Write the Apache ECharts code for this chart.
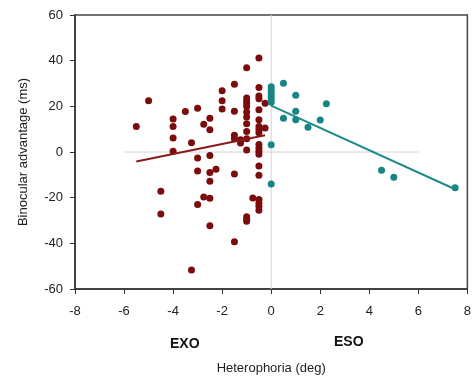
<!DOCTYPE html>
<html>
<head>
<meta charset="utf-8">
<script src="https://cdn.jsdelivr.net/npm/echarts@6/dist/echarts.min.js"></script>
<style>html,body{margin:0;padding:0;background:#fff}#c{width:474px;height:380px}</style>
</head>
<body>
<div id="c"></div>
<script>
var xTicks = {min: -8, max: 8, interval: 2};
var yTicks = {min: -60, max: 60, interval: 20};

var exoPoints = [
  [-5.5,11.2],[-5.0,22.5],[-4.5,-17.2],[-4.5,-27.1],
  [-4,14.5],[-4,11.2],[-4,6.1],[-4,0.3],
  [-3.5,17.7],[-3,19.2],[-3.25,4.1],[-3.25,-51.7],
  [-3,-2.6],[-3,-8.3],[-3,-23],
  [-2.75,12.2],[-2.75,-19.7],
  [-2.5,14.8],[-2.5,9.7],[-2.5,-1.5],[-2.5,-9],[-2.5,-12.8],[-2.5,-20.3],[-2.5,-32.3],
  [-2.25,-7.6],
  [-2,26.8],[-2,22.4],[-2,18.8],
  [-1.5,29.7],[-1.5,17.9],[-1.5,7.3],[-1.5,5.8],[-1.5,-9.6],[-1.5,-39.3],
  [-1.25,5.4],[-1.25,3.9],
  [-1,36.9],[-1,23.6],[-1,22.3],[-1,21.2],[-1,19.9],[-1,17.5],[-1,15.3],[-1,12.4],[-1,9.0],[-1,5.8],[-1,0.9],[-1,-28.4],[-1,-29.4],[-1,-30.3],
  [-0.75,-20.1],
  [-0.5,41.2],[-0.5,28.2],[-0.5,24.5],[-0.5,23.3],[-0.5,18.5],[-0.5,14.1],[-0.5,11.2],[-0.5,9.7],[-0.5,8.4],[-0.5,3.3],[-0.5,1.7],[-0.5,0.3],[-0.5,-1.0],[-0.5,-6.1],[-0.5,-10.2],[-0.5,-20.8],[-0.5,-22.3],[-0.5,-23.8],[-0.5,-25.5],
  [-0.25,21.4],[-0.25,10.5]
];
var esoPoints = [
  [0,28.6],[0,27.2],[0,25.9],[0,24.5],[0,23.3],[0,21.8],[0,3.2],[0,-14],
  [0.5,30.1],[0.5,14.8],[1,24.9],[1,17.9],[1,14.1],[1.5,10.8],[2,14],[2.25,21.1],
  [4.5,-8],[5,-11.1],[7.5,-15.7]
];
var exoFit = [[-5.5,-4.2],[-0.25,7.3]];
var esoFit = [[0,20.3],[7.5,-16.3]];
var zeroLineH = [[-6,0],[6,0]];
var zeroLineV = [[0,-60],[0,60]];

var exoColor = '#7a0c0c';
var esoColor = '#168585';
var font = 'Liberation Sans, Arial, sans-serif';

var chart = echarts.init(document.getElementById('c'), null, {renderer: 'canvas'});
chart.setOption({
  animation: false,
  backgroundColor: '#fff',
  grid: {left: 75, right: 6, top: 15, bottom: 89, show: true, borderColor: '#444', borderWidth: 1.5, backgroundColor: 'transparent'},
  xAxis: {
    type: 'value', min: xTicks.min, max: xTicks.max, interval: xTicks.interval,
    name: 'Heterophoria (deg)', nameLocation: 'middle', nameGap: 73,
    nameTextStyle: {fontFamily: font, fontSize: 13, color: '#222'},
    axisLine: {onZero: false, lineStyle: {color: '#333', width: 1.5}},
    axisTick: {show: true, inside: false, length: 5, lineStyle: {color: '#333'}},
    axisLabel: {fontFamily: font, fontSize: 13, color: '#222', margin: 16},
    splitLine: {show: false}
  },
  yAxis: {
    type: 'value', min: yTicks.min, max: yTicks.max, interval: yTicks.interval,
    name: 'Binocular advantage (ms)', nameLocation: 'middle', nameGap: 45,
    nameTextStyle: {fontFamily: font, fontSize: 13, color: '#222'},
    axisLine: {onZero: false, lineStyle: {color: '#333', width: 1.5}},
    axisTick: {show: true, inside: false, length: 5, lineStyle: {color: '#333'}},
    axisLabel: {fontFamily: font, fontSize: 13, color: '#222', margin: 12},
    splitLine: {show: false}
  },
  graphic: [
    {type: 'text', left: 170, top: 337, style: {text: 'EXO', font: 'bold 14px Liberation Sans, Arial, sans-serif', fill: '#111'}},
    {type: 'text', left: 334, top: 335, style: {text: 'ESO', font: 'bold 14px Liberation Sans, Arial, sans-serif', fill: '#111'}}
  ],
  series: [
    {type: 'line', data: zeroLineH, symbol: 'none', silent: true, z: 1, lineStyle: {color: '#d4d4d4', width: 1}},
    {type: 'line', data: zeroLineV, symbol: 'none', silent: true, z: 1, lineStyle: {color: '#d4d4d4', width: 1}},
    {type: 'scatter', data: exoPoints, symbol: 'circle', symbolSize: 7, z: 3, itemStyle: {color: exoColor, opacity: 1}},
    {type: 'scatter', data: esoPoints, symbol: 'circle', symbolSize: 7, z: 3, itemStyle: {color: esoColor, opacity: 1}},
    {type: 'line', data: exoFit, symbol: 'none', z: 4, lineStyle: {color: '#8a1a1a', width: 2}},
    {type: 'line', data: esoFit, symbol: 'none', z: 4, lineStyle: {color: '#1f8a8a', width: 2}}
  ]
});
</script>
</body>
</html>
